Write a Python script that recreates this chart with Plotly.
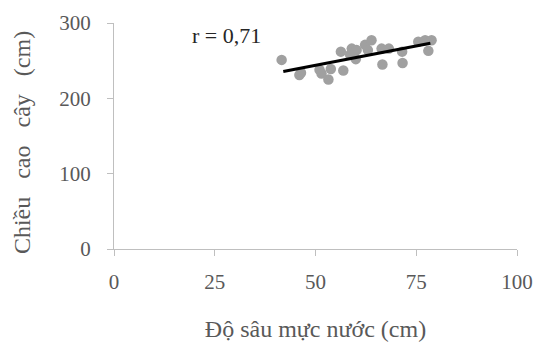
import plotly.graph_objects as go

# Data
depth = [41.6, 46.0, 46.4, 51.0, 51.5, 53.2, 53.8, 56.3, 56.9, 58.6, 59.0, 60.0,
         60.2, 62.3, 63.0, 63.9, 66.4, 66.6, 68.2, 71.5, 71.6, 75.5, 77.2, 78.0, 78.8]
height = [251, 231, 234, 238, 233, 225, 239, 262, 237, 258, 266, 252,
          264, 271, 264, 277, 266, 245, 266, 262, 247, 275, 277, 263, 277]
trend_x = [42, 78.5]
trend_y = [235.5, 273]
r_label = "r = 0,71"

x_ticks = [0, 25, 50, 75, 100]
y_ticks = [0, 100, 200, 300]

font_family = "Liberation Serif, Times New Roman, serif"
axis_color = "#bfbfbf"
text_color = "#595959"
NB = "\u00a0"

fig = go.Figure()
fig.add_trace(go.Scatter(
    x=depth, y=height, mode="markers",
    marker=dict(size=10.5, color="#a0a0a0", line=dict(width=0)),
    showlegend=False,
))
fig.add_trace(go.Scatter(
    x=trend_x, y=trend_y, mode="lines",
    line=dict(color="black", width=3),
    showlegend=False,
))
fig.add_annotation(
    x=28, y=284, xref="x", yref="y", text=r_label, showarrow=False,
    font=dict(family=font_family, size=22, color="#262626"),
)
# y-axis title (placed as annotation to match reference offset)
fig.add_annotation(
    x=-0.228, y=0.469, xref="paper", yref="paper",
    text=f"Chiều{NB}{NB}{NB}cao{NB}{NB}{NB}cây{NB}{NB}{NB}(cm)",
    textangle=-90, showarrow=False, xanchor="center", yanchor="middle",
    font=dict(family=font_family, size=24, color=text_color),
)

fig.update_layout(
    width=538, height=349,
    margin=dict(l=114, r=21, t=23, b=100),
    paper_bgcolor="white", plot_bgcolor="white",
    font=dict(family=font_family, color=text_color),
)
fig.update_xaxes(
    range=[0, 100], tickvals=x_ticks, ticktext=[str(v) for v in x_ticks],
    showgrid=False, zeroline=False, automargin=False,
    showline=True, linecolor=axis_color, linewidth=1,
    ticks="outside", ticklen=6, tickcolor=axis_color,
    tickfont=dict(size=21, color=text_color, family=font_family),
    ticklabelstandoff=8, ticklabeloverflow="allow",
    title=dict(text="Độ sâu mực nước (cm)", font=dict(size=24, color=text_color, family=font_family), standoff=26),
)
fig.update_yaxes(
    range=[0, 300], tickvals=y_ticks, ticktext=[str(v) for v in y_ticks],
    showgrid=False, zeroline=False, automargin=False,
    showline=True, linecolor=axis_color, linewidth=1,
    ticks="outside", ticklen=6, tickcolor=axis_color,
    tickfont=dict(size=21, color=text_color, family=font_family),
    ticklabelstandoff=12,
)

fig.write_html(
    "out.html",
    config={"displayModeBar": False},
    post_script="document.body.style.margin='0';document.body.style.overflow='hidden';",
)
